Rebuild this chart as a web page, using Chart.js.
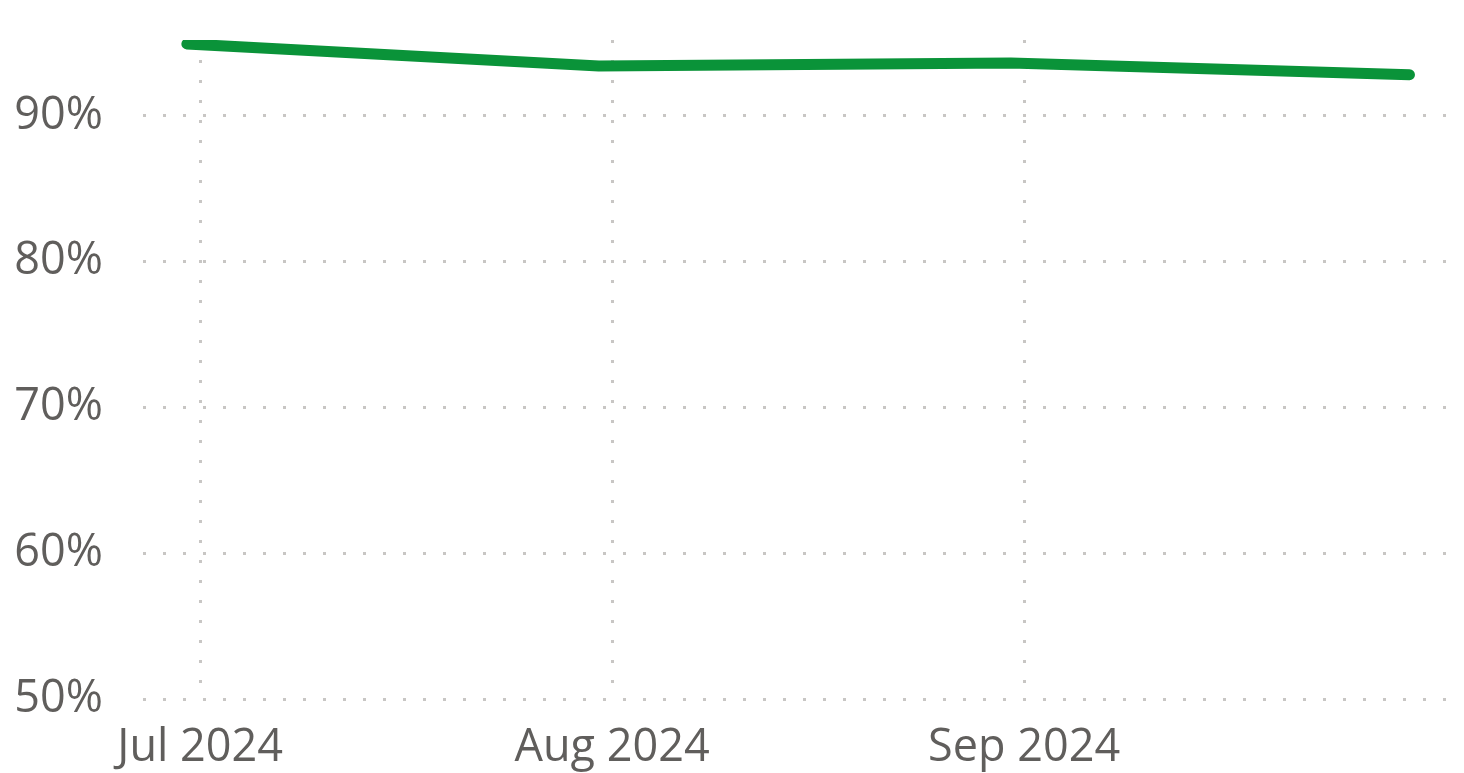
<!DOCTYPE html>
<html>
<head>
<meta charset="utf-8">
<script src="https://cdn.jsdelivr.net/npm/chart.js@4"></script>
<style>
  html, body { margin: 0; padding: 0; background: #fff; }
  #wrap { width: 1464px; height: 773px; position: relative; }
</style>
</head>
<body>
<div id="wrap"><canvas id="chart"></canvas></div>
<script>
// month-end readings
const dates = ['2024-06-30', '2024-07-31', '2024-08-31', '2024-09-30'];
const values = [94.93, 93.42, 93.63, 92.81];

// x ticks (month starts) and their labels
const tickDates = ['2024-07-01', '2024-08-01', '2024-09-01'];
const tickLabels = ['Jul 2024', 'Aug 2024', 'Sep 2024'];
const yTicks = [50, 60, 70, 80, 90];

const origin = Date.parse('2024-07-01');
function dayOf(d) {
  return (Date.parse(d) - origin) / 86400000;
}

const points = dates.map((d, i) => ({ x: dayOf(d), y: values[i] }));
const tickDays = tickDates.map(dayOf);

const textColor = '#605E5C';
const gridColor = '#C8C6C4';
const font = { family: '"Segoe UI", "Open Sans", sans-serif', size: 45 };

new Chart(document.getElementById('chart').getContext('2d'), {
  type: 'line',
  data: {
    datasets: [{
      data: points,
      borderColor: '#0A9339',
      borderWidth: 11,
      borderCapStyle: 'round',
      borderJoinStyle: 'round',
      pointRadius: 0,
      tension: 0,
      fill: false
    }]
  },
  options: {
    responsive: true,
    maintainAspectRatio: false,
    animation: false,
    layout: { padding: { top: 40, right: 16, left: 0, bottom: 0 } },
    plugins: {
      legend: { display: false },
      tooltip: { enabled: false }
    },
    scales: {
      x: {
        type: 'linear',
        min: -4.3,
        max: 93.9,
        afterBuildTicks: (axis) => {
          axis.ticks = tickDays.map(v => ({ value: v }));
        },
        afterFit: (axis) => {
          axis.height = 74;
          axis.paddingLeft = 0;
          axis.paddingRight = 0;
        },
        ticks: {
          color: textColor,
          font: font,
          padding: 22,
          maxRotation: 0,
          autoSkip: false,
          callback: (v) => tickLabels[tickDays.indexOf(v)]
        },
        grid: { color: gridColor, lineWidth: 3, drawTicks: false, tickLength: 0 },
        border: { display: false, dash: [3, 17] }
      },
      y: {
        min: 50,
        max: 95.2,
        afterBuildTicks: (axis) => {
          axis.ticks = yTicks.map(v => ({ value: v }));
        },
        afterFit: (axis) => {
          axis.width = 143;
          axis.paddingTop = 0;
          axis.paddingBottom = 0;
        },
        ticks: {
          color: textColor,
          font: font,
          padding: 40,
          callback: (v) => v + '%'
        },
        grid: { color: gridColor, lineWidth: 3, drawTicks: false, tickLength: 0 },
        border: { display: false, dash: [3, 17] }
      }
    }
  }
});
</script>
</body>
</html>
